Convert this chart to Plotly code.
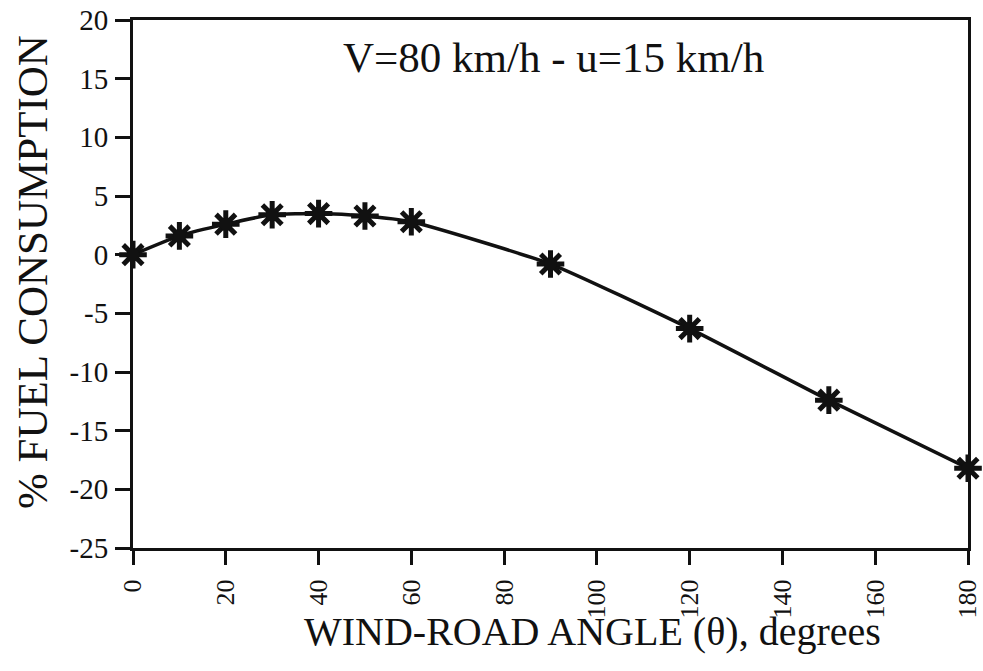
import plotly.graph_objects as go

angles = [0, 10, 20, 30, 40, 50, 60, 90, 120, 150, 180]
fuel_pct = [0.0, 1.6, 2.6, 3.4, 3.5, 3.3, 2.8, -0.8, -6.3, -12.4, -18.2]
x_ticks = [0, 20, 40, 60, 80, 100, 120, 140, 160, 180]
y_ticks = [-25, -20, -15, -10, -5, 0, 5, 10, 15, 20]

FONT = "Liberation Serif, Times New Roman, serif"
W, H = 983, 671
L, R, T, B = 133, 15, 20, 123
PW, PH = W - L - R, H - T - B


def px(xp):
    return (xp - L) / PW


def py(yp):
    return (H - B - yp) / PH


fig = go.Figure()
fig.add_trace(go.Scatter(
    x=angles, y=fuel_pct, mode="lines+markers",
    line=dict(color="#111", width=3.5, shape="spline", smoothing=0.5),
    marker=dict(symbol="asterisk-open", size=23, color="#111",
                line=dict(color="#111", width=5)),
    showlegend=False, cliponaxis=False,
))
fig.add_trace(go.Scatter(
    x=angles, y=fuel_pct, mode="markers",
    marker=dict(symbol="circle", size=13, color="#111"),
    showlegend=False, cliponaxis=False,
))

common = dict(xref="paper", yref="paper", showarrow=False,
              xanchor="center", yanchor="middle")
fig.add_annotation(
    x=px(553), y=py(57), text="V=80 km/h - u=15 km/h",
    font=dict(family=FONT, size=43, color="#111"), **common,
)
fig.add_annotation(
    x=px(592), y=py(631), text="WIND-ROAD ANGLE (θ), degrees",
    font=dict(family=FONT, size=40, color="#111"), **common,
)
fig.add_annotation(
    x=px(32), y=py(272), textangle=-90, text="% FUEL CONSUMPTION",
    font=dict(family=FONT, size=43, color="#111"), **common,
)

fig.update_layout(
    width=W, height=H,
    margin=dict(l=L, r=R, t=T, b=B, autoexpand=False),
    paper_bgcolor="white", plot_bgcolor="white",
    font=dict(family=FONT, color="#111"),
)
fig.update_xaxes(
    range=[0, 180], tickvals=x_ticks, ticktext=[str(v) for v in x_ticks],
    tickangle=-90, tickfont=dict(size=26, family=FONT),
    ticks="outside", ticklen=14, tickwidth=3, tickcolor="#111",
    ticklabelstandoff=4, automargin=False,
    showline=True, linewidth=3, linecolor="#111", mirror=True,
    showgrid=False, zeroline=False,
)
fig.update_yaxes(
    range=[-25, 20], tickvals=y_ticks, ticktext=[str(v) for v in y_ticks],
    tickfont=dict(size=29, family=FONT),
    ticks="outside", ticklen=15, tickwidth=3, tickcolor="#111",
    ticklabelstandoff=1, automargin=False,
    showline=True, linewidth=3, linecolor="#111", mirror=True,
    showgrid=False, zeroline=False,
)

fig.write_html("out.html")
